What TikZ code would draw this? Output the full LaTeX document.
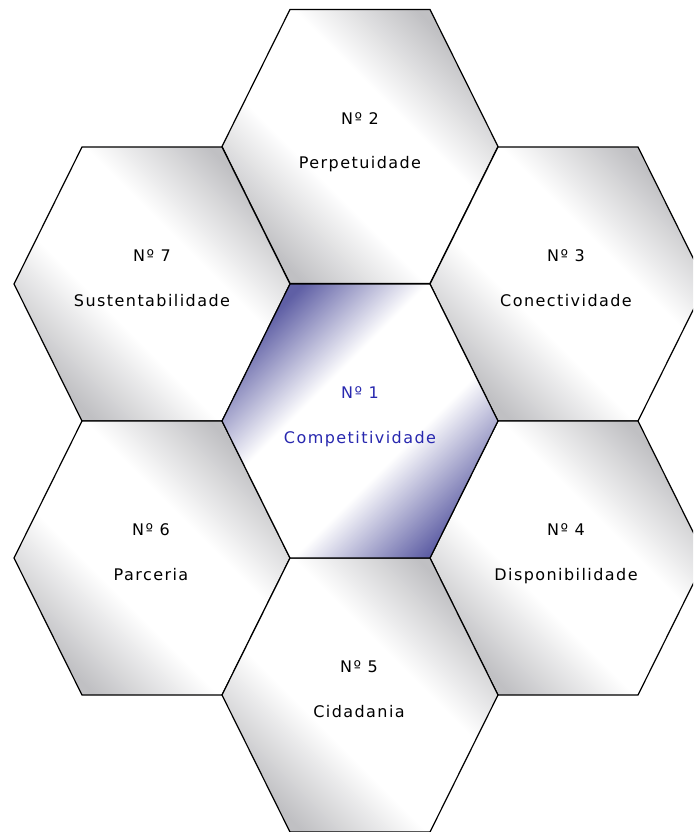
\documentclass[tikz,border=0pt]{standalone}
\usepackage{fontspec}
\newfontfamily\lblfont{DejaVu Sans}[LetterSpace=9]
\definecolor{hexgray}{RGB}{192,192,195}
\definecolor{hexblue}{RGB}{95,95,165}
\definecolor{txtblue}{RGB}{40,40,175}
\pgfdeclarehorizontalshading{metalgray}{100bp}{color(0bp)=(hexgray); color(25bp)=(hexgray); color(41bp)=(white); color(59bp)=(white); color(75bp)=(hexgray); color(100bp)=(hexgray)}
\pgfdeclarehorizontalshading{metalblue}{100bp}{color(0bp)=(hexblue); color(25bp)=(hexblue); color(41bp)=(white); color(59bp)=(white); color(76bp)=(hexblue); color(100bp)=(hexblue)}
\tikzset{
  hexedge/.style={draw=black, line width=0.6pt, line join=miter},
  hexgrey/.pic={\path[hexedge, shade, shading=metalgray, shading angle=45]
      (-138,0) -- (-70,-137) -- (70,-137) -- (138,0) -- (70,137) -- (-70,137) -- cycle;},
  hexblu/.pic={\path[hexedge, shade, shading=metalblue, shading angle=-45]
      (-138,0) -- (-70,-137) -- (70,-137) -- (138,0) -- (70,137) -- (-70,137) -- cycle;},
  lbl/.style={font=\lblfont\fontsize{8}{9}\selectfont, text=black, anchor=base, inner sep=0pt},
  lblc/.style={lbl, text=txtblue}
}
\begin{document}
\begin{tikzpicture}[x=0.5pt, y=-0.5pt]
\useasboundingbox (0,0) rectangle (693,832);
\fill[white] (0,0) rectangle (693,832);
\clip (0,0) rectangle (693,832);
% hexagons
\pic at (360,146.5) {hexgrey};
\pic at (152,284) {hexgrey};
\pic at (568,284) {hexgrey};
\pic at (152,558) {hexgrey};
\pic at (568,558) {hexgrey};
\pic at (360,695) {hexgrey};
\pic at (360,421) {hexblu};
% labels
\node[lbl] (n2a) at (360,124) {Nº 2};
\node[lbl] (n2b) at (360,168.5) {Perpetuidade};
\node[lbl] (n7a) at (152,261.5) {Nº 7};
\node[lbl] (n7b) at (152,306) {Sustentabilidade};
\node[lbl] (n3a) at (566,261.5) {Nº 3};
\node[lbl] (n3b) at (566,306) {Conectividade};
\node[lblc] (n1a) at (360,398.5) {Nº 1};
\node[lblc] (n1b) at (360,443) {Competitividade};
\node[lbl] (n6a) at (151,535.5) {Nº 6};
\node[lbl] (n6b) at (151,580) {Parceria};
\node[lbl] (n4a) at (566,535.5) {Nº 4};
\node[lbl] (n4b) at (566,580) {Disponibilidade};
\node[lbl] (n5a) at (359,672.5) {Nº 5};
\node[lbl] (n5b) at (359,717) {Cidadania};
\end{tikzpicture}
\end{document}
